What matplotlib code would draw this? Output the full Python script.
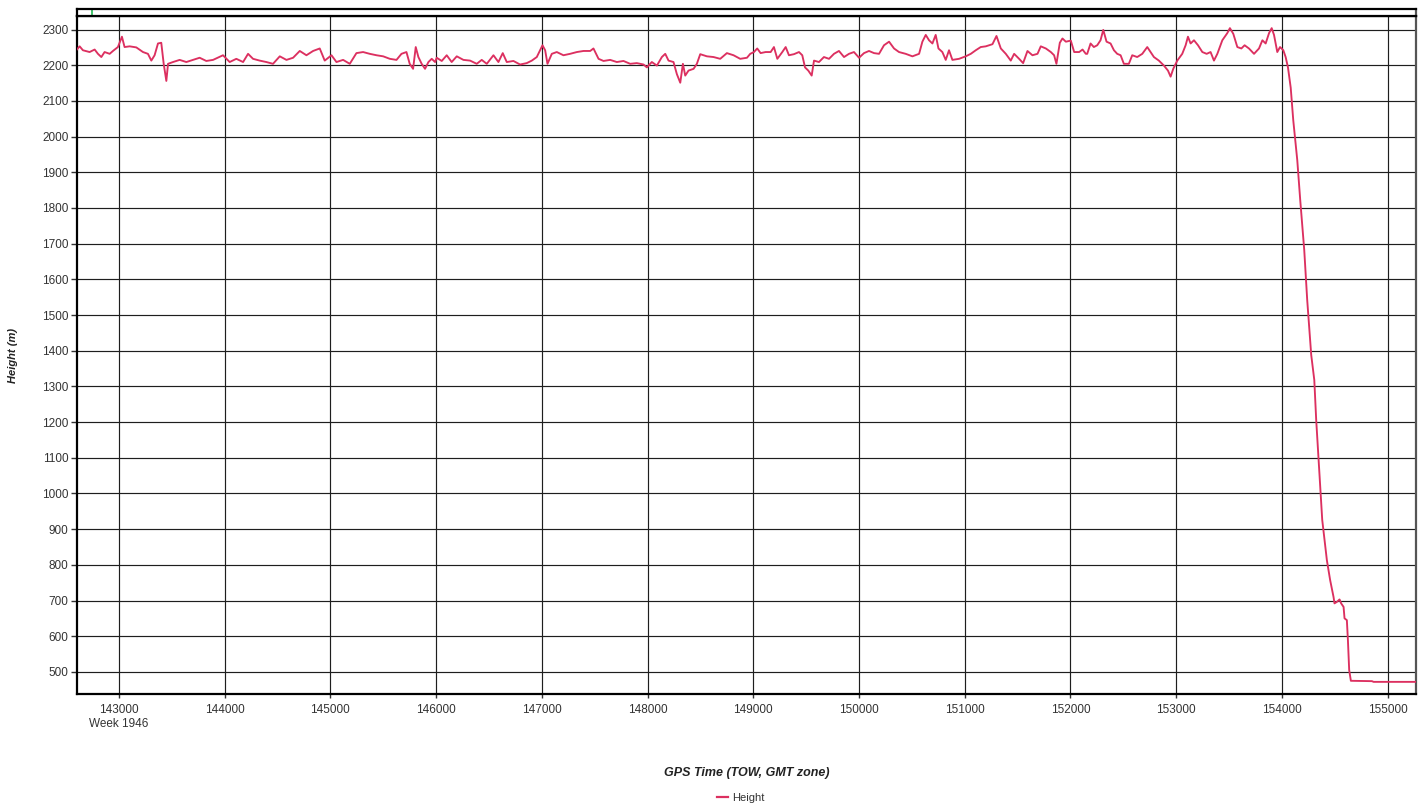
import matplotlib
matplotlib.use("Agg")
import matplotlib.pyplot as plt
from matplotlib.lines import Line2D

plt.rcParams['font.family'] = ['Liberation Sans', 'DejaVu Sans']

# ---- data (GPS time of week, s) ----
times_a = [142596, 142628, 142659, 142722, 142770, 142801, 142833, 142864, 142912, 142943,
           142990, 143028, 143053, 143101, 143164, 143227, 143274, 143306, 143337, 143369,
           143400, 143423, 143448, 143464, 143511, 143574, 143637, 143700, 143763, 143826,
           143890, 143984, 144047, 144110, 144174, 144221, 144268, 144331, 144394, 144457,
           144521, 144584, 144647, 144710, 144773, 144836, 144899, 144946, 145010, 145057,
           145120, 145183, 145246, 145309, 145372, 145436, 145499, 145562, 145625, 145672,
           145719, 145750, 145782, 145807]
heights_a = [2242, 2253, 2242, 2237, 2244, 2232, 2223, 2237, 2232, 2240,
             2251, 2280, 2251, 2253, 2250, 2237, 2232, 2213, 2228, 2261,
             2263, 2204, 2156, 2204, 2209, 2215, 2209, 2215, 2221, 2212,
             2215, 2228, 2209, 2218, 2209, 2232, 2218, 2213, 2209, 2204,
             2225, 2215, 2221, 2240, 2228, 2240, 2247, 2213, 2228, 2209,
             2215, 2204, 2234, 2237, 2232, 2228, 2225, 2218, 2215, 2232,
             2237, 2204, 2190, 2251]

times_b = [145832, 145863, 145895, 145927, 145958, 145990, 146005, 146053, 146100, 146147,
           146195, 146258, 146321, 146384, 146431, 146479, 146542, 146589, 146630, 146668,
           146731, 146794, 146857, 146905, 146952, 146983, 147006, 147031, 147053, 147094,
           147141, 147204, 147267, 147331, 147394, 147457, 147488, 147536, 147583, 147646,
           147709, 147772, 147835, 147898, 147962, 147993, 148040, 148088, 148135, 148167,
           148198, 148245, 148277, 148309, 148334, 148356, 148387, 148435, 148466, 148498,
           148561, 148624, 148687, 148750, 148813, 148876, 148940, 148971]
heights_b = [2223, 2204, 2190, 2209, 2218, 2209, 2221, 2212, 2228, 2209,
             2225, 2215, 2213, 2204, 2215, 2204, 2228, 2209, 2234, 2209,
             2212, 2202, 2206, 2213, 2223, 2242, 2256, 2242, 2204, 2232,
             2237, 2228, 2232, 2237, 2240, 2240, 2247, 2218, 2212, 2215,
             2209, 2212, 2204, 2206, 2202, 2194, 2209, 2199, 2223, 2232,
             2213, 2209, 2175, 2151, 2204, 2171, 2185, 2190, 2204, 2231,
             2225, 2223, 2218, 2234, 2228, 2218, 2221, 2232]

times_c = [149006, 149037, 149069, 149116, 149164, 149195, 149227, 149274, 149306, 149337,
           149384, 149432, 149463, 149489, 149520, 149552, 149574, 149621, 149668, 149716,
           149763, 149810, 149858, 149905, 149952, 150000, 150047, 150094, 150142, 150189,
           150236, 150284, 150331, 150378, 150441, 150505, 150568, 150599, 150631, 150662,
           150694, 150725, 150751, 150788, 150820, 150851, 150883, 150946, 151009, 151057,
           151104, 151151, 151199, 151262, 151300, 151341, 151388, 151435, 151467, 151514,
           151552, 151593, 151640, 151688, 151719, 151767, 151814, 151845, 151867, 151899,
           151924, 151956, 152003, 152035, 152082, 152114, 152145]
heights_c = [2237, 2247, 2234, 2237, 2237, 2251, 2218, 2237, 2251, 2228,
             2231, 2237, 2228, 2194, 2185, 2171, 2213, 2209, 2223, 2218,
             2232, 2240, 2223, 2232, 2237, 2221, 2234, 2240, 2234, 2232,
             2256, 2266, 2247, 2237, 2232, 2225, 2232, 2266, 2285, 2270,
             2261, 2285, 2247, 2237, 2215, 2242, 2215, 2218, 2225, 2232,
             2242, 2251, 2253, 2259, 2282, 2247, 2232, 2213, 2232, 2218,
             2206, 2240, 2228, 2232, 2253, 2247, 2237, 2228, 2204, 2263,
             2275, 2266, 2269, 2237, 2237, 2244, 2232]

times_d = [152158, 152190, 152221, 152253, 152284, 152310, 152341, 152379, 152411, 152442,
           152474, 152505, 152552, 152584, 152631, 152679, 152726, 152758, 152789, 152836,
           152884, 152922, 152947, 152972, 153010, 153057, 153089, 153111, 153136, 153168,
           153206, 153247, 153288, 153325, 153357, 153389, 153436, 153483, 153508, 153540,
           153578, 153616, 153647, 153688, 153736, 153783, 153815, 153846, 153878, 153903,
           153925, 153956, 153982, 154013, 154035, 154057, 154083]
heights_d = [2232, 2261, 2251, 2256, 2270, 2299, 2266, 2261, 2242, 2232,
             2228, 2204, 2204, 2228, 2223, 2232, 2251, 2237, 2223, 2213,
             2199, 2185, 2168, 2190, 2213, 2232, 2256, 2280, 2261, 2270,
             2256, 2237, 2232, 2237, 2213, 2232, 2270, 2290, 2304, 2288,
             2251, 2247, 2256, 2247, 2232, 2247, 2270, 2261, 2290, 2304,
             2285, 2237, 2251, 2242, 2223, 2194, 2137]

times_e = [154107, 154145, 154173, 154211, 154239, 154277, 154306, 154324, 154353, 154381,
           154425, 154456, 154488, 154497, 154519, 154545, 154560, 154583, 154592, 154614,
           154624, 154636, 154652, 154851, 154867, 155300]
heights_e = [2046, 1934, 1822, 1682, 1542, 1388, 1318, 1206, 1066, 926,
             813, 757, 710, 692, 696, 703, 692, 682, 650, 645,
             589, 505, 475, 474, 472, 472]

times = times_a + times_b + times_c + times_d + times_e
heights = heights_a + heights_b + heights_c + heights_d + heights_e

x_ticks = [143000, 144000, 145000, 146000, 147000, 148000, 149000,
           150000, 151000, 152000, 153000, 154000, 155000]
x_tick_labels = ["143000\nWeek 1946"] + [str(v) for v in x_ticks[1:]]
y_ticks = list(range(500, 2301, 100))
x_range = (142603, 155268)
y_range = (438, 2338)
marker_time = 142745
series_name = "Height"
x_title = "GPS Time (TOW, GMT zone)"
y_title = "Height (m)"

LINE_COLOR = "#DC3060"
TEXT_COLOR = "#333333"

W, H = 1423, 805
fig = plt.figure(figsize=(W / 100, H / 100), dpi=100)
L, R, T, B = 77, 1416, 16, 694
ax = fig.add_axes([L / W, 1 - B / H, (R - L) / W, (B - T) / H])

ax.plot(times, heights, color=LINE_COLOR, lw=1.35, zorder=3)
ax.set_xlim(*x_range)
ax.set_ylim(*y_range)
ax.set_xticks(x_ticks)
ax.set_xticklabels(x_tick_labels)
ax.set_yticks(y_ticks)
ax.grid(True, color="#1e1e1e", lw=0.85)
ax.set_axisbelow(True)
ax.tick_params(axis='y', direction='out', length=4, width=1, pad=2,
               labelsize=8.5, labelcolor=TEXT_COLOR, color="#333333")
ax.tick_params(axis='x', direction='out', length=3, width=1, pad=4,
               labelsize=8.5, labelcolor=TEXT_COLOR, color="#333333")
for name, sp in ax.spines.items():
    sp.set_linewidth(1.6)
    sp.set_color("black")
ax.spines['right'].set_color("#555555")

# thin strip above plot
strip = fig.add_axes([L / W, 1 - T / H, (R - L) / W, 7 / H])
strip.set_xlim(*x_range)
strip.set_ylim(0, 1)
strip.set_xticks([])
strip.set_yticks([])
for name, sp in strip.spines.items():
    sp.set_linewidth(1.6)
    sp.set_color("black")
strip.spines['right'].set_color("#555555")
strip.axvline(marker_time, color="#22bb55", lw=1.2)

fig.text(747 / W, 1 - 773 / H, x_title, ha='center', va='center',
         fontsize=9, fontweight='bold', fontstyle='italic', color="#222222")
fig.text(13 / W, 1 - 355 / H, y_title, ha='center', va='center', rotation=90,
         fontsize=8, fontweight='bold', fontstyle='italic', color="#222222")

handle = Line2D([], [], color=LINE_COLOR, lw=1.6)
fig.legend([handle], [series_name], loc='center',
           bbox_to_anchor=(741 / W, 1 - 798 / H), frameon=False,
           fontsize=8, handlelength=1.0, handletextpad=0.4,
           labelcolor=TEXT_COLOR)

fig.savefig("out.png", dpi=100)
